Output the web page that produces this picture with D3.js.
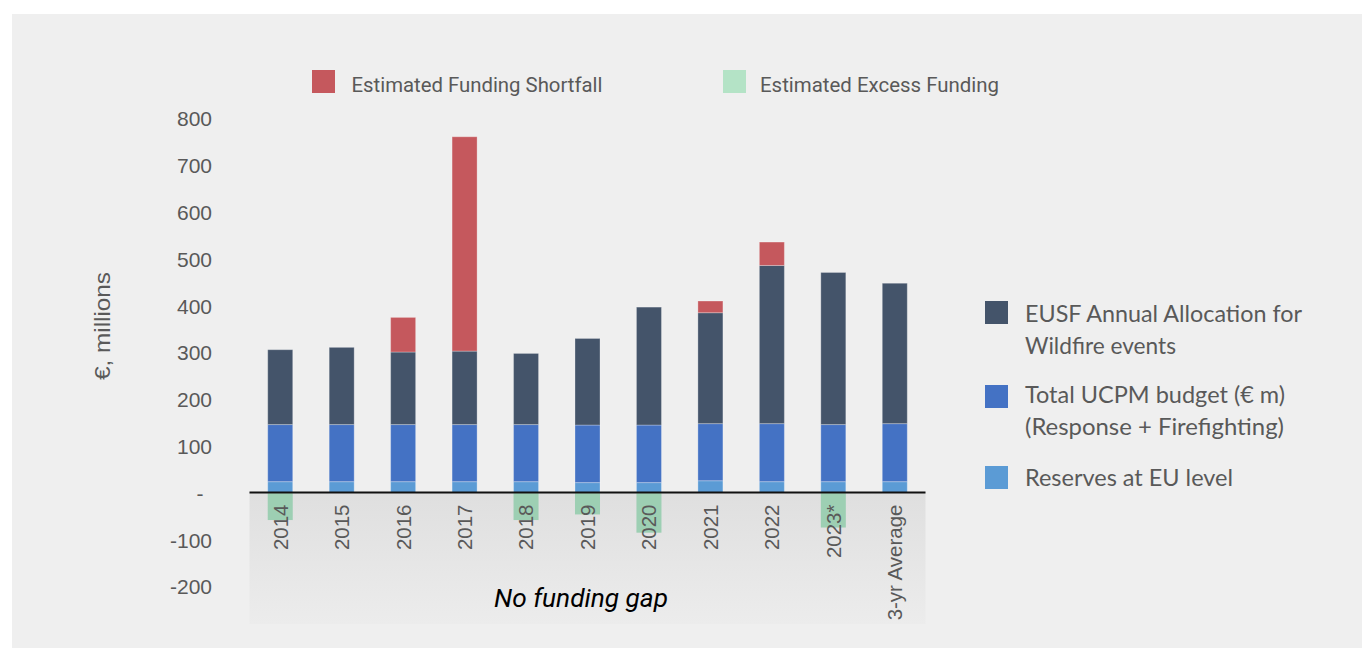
<!DOCTYPE html>
<html>
<head>
<meta charset="utf-8">
<script src="https://cdn.jsdelivr.net/npm/d3@7"></script>
<style>
  html, body { margin: 0; padding: 0; background: #ffffff; }
  svg { display: block; }
</style>
</head>
<body>
<svg id="chart" width="1362" height="652"></svg>
<script>
// Wildfire funding: stacked components per year, with shortfall on top and excess below zero (€ millions)
const categories = ["2014", "2015", "2016", "2017", "2018", "2019", "2020", "2021", "2022", "2023*", "3-yr Average"];
const reserves   = [24, 24, 24, 24, 24, 22, 22, 26, 24, 24, 24];
const ucpm       = [122, 122, 122, 122, 122, 123, 123, 122, 124, 122, 124];
const eusf       = [160, 165, 155, 157, 152, 185, 252, 237, 338, 325, 300];
const shortfall  = [0, 0, 74, 458, 0, 0, 0, 25, 50, 0, 0];
const excess     = [-58, 0, 0, 0, -58, -46, -85, 0, 0, -74, 0];
const yTicks     = [800, 700, 600, 500, 400, 300, 200, 100, 0, -100, -200];

const colors = {
  reserves: "#5b9bd5",
  ucpm: "#4472c4",
  eusf: "#44546a",
  shortfall: "#c5585d",
  excess: "#9dcfb3",
  excessKey: "#b4e3c6"
};

const svg = d3.select("#chart");
const W = 1362, H = 652;

// grey panel
svg.append("rect").attr("x", 12).attr("y", 14).attr("width", W - 12).attr("height", 634).attr("fill", "#efefef");

const x = d3.scaleBand().domain(categories).range([249.5, 925.5]).paddingInner(0.593).paddingOuter(0.2965);
const y = d3.scaleLinear().domain([-200, 800]).range([586.5, 118.5]);
const y0 = Math.round(y(0)) - 0.5;

// shaded band under the zero line
const defs = svg.append("defs");
const grad = defs.append("linearGradient").attr("id", "band").attr("x1", 0).attr("y1", 0).attr("x2", 0).attr("y2", 1);
grad.append("stop").attr("offset", "0%").attr("stop-color", "#dfdfdf");
grad.append("stop").attr("offset", "100%").attr("stop-color", "#ececec");
svg.append("rect")
  .attr("x", 249.5).attr("y", y0)
  .attr("width", 676).attr("height", 624 - y0)
  .attr("fill", "url(#band)");

// excess funding below zero
svg.append("g").selectAll("rect")
  .data(categories.map((c, i) => ({ c, v: excess[i] })).filter(d => d.v < 0))
  .join("rect")
  .attr("x", d => x(d.c))
  .attr("width", x.bandwidth())
  .attr("y", y0)
  .attr("height", d => y(d.v) - y0)
  .attr("fill", colors.excess);

// stacked bars
const rows = categories.map((c, i) => ({ c, reserves: reserves[i], ucpm: ucpm[i], eusf: eusf[i], shortfall: shortfall[i] }));
const keys = ["reserves", "ucpm", "eusf", "shortfall"];
const stack = d3.stack().keys(keys)(rows);

svg.append("g").selectAll("g")
  .data(stack)
  .join("g")
  .attr("fill", d => colors[d.key])
  .selectAll("rect")
  .data(d => d.filter(s => s[1] - s[0] > 0))
  .join("rect")
  .attr("x", d => x(d.data.c))
  .attr("width", x.bandwidth())
  .attr("y", d => y(d[1]))
  .attr("height", d => y(d[0]) - y(d[1]))
  .attr("stroke", "rgba(255,255,255,0.28)")
  .attr("stroke-width", 1);

// zero line
svg.append("line")
  .attr("x1", 249.5).attr("x2", 925.5)
  .attr("y1", y0).attr("y2", y0)
  .attr("stroke", "#111").attr("stroke-width", 2);

// y axis labels (accounting style: zero shown as a dash, plain hyphen for negatives)
const yAxis = d3.axisLeft(y).tickValues(yTicks).tickSize(0).tickPadding(0)
  .tickFormat(d => d === 0 ? "-" : String(d));
const ya = svg.append("g").attr("transform", "translate(212,0)").call(yAxis);
ya.select(".domain").remove();
ya.selectAll("text")
  .attr("font-family", "'Liberation Sans', Arial, sans-serif")
  .attr("font-size", 21)
  .attr("fill", "#595959")
  .attr("dy", "0.35em");
ya.selectAll(".tick").filter(d => d === 0).select("text")
  .attr("text-anchor", "middle").attr("x", -12);

// category labels, rotated
const xAxis = d3.axisBottom(x).tickSize(0).tickPadding(0);
const xa = svg.append("g").attr("transform", `translate(0,${y0})`).call(xAxis);
xa.select(".domain").remove();
xa.selectAll("text")
  .attr("font-family", "'Liberation Sans', Arial, sans-serif")
  .attr("font-size", 20.5)
  .attr("fill", "#595959")
  .attr("text-anchor", "end")
  .attr("transform", "rotate(-90)")
  .attr("x", -12)
  .attr("y", 0)
  .attr("dy", "0.36em");

// y axis title
svg.append("text")
  .attr("transform", "translate(110,326) rotate(-90)")
  .attr("text-anchor", "middle")
  .attr("font-family", "'Liberation Sans', Arial, sans-serif")
  .attr("font-size", 22)
  .attr("fill", "#595959")
  .attr("textLength", 108)
  .attr("lengthAdjust", "spacingAndGlyphs")
  .text("€, millions");

// band annotation
svg.append("text")
  .attr("x", 581).attr("y", 607)
  .attr("text-anchor", "middle")
  .attr("font-family", "Roboto, 'Liberation Sans', sans-serif")
  .attr("font-style", "italic")
  .attr("font-size", 25)
  .attr("fill", "#000")
  .attr("textLength", 174)
  .attr("lengthAdjust", "spacingAndGlyphs")
  .text("No funding gap");

// top legend
const topKeys = [
  { label: "Estimated Funding Shortfall", color: colors.shortfall, sx: 312, tx: 351.5, w: 251 },
  { label: "Estimated Excess Funding", color: colors.excessKey, sx: 723, tx: 760, w: 239 }
];
const tl = svg.append("g").selectAll("g").data(topKeys).join("g");
tl.append("rect").attr("x", d => d.sx).attr("y", 70).attr("width", 23).attr("height", 23).attr("fill", d => d.color);
tl.append("text")
  .attr("x", d => d.tx).attr("y", 92)
  .attr("font-family", "Roboto, 'Liberation Sans', sans-serif")
  .attr("font-size", 21)
  .attr("fill", "#595959")
  .attr("textLength", d => d.w)
  .attr("lengthAdjust", "spacingAndGlyphs")
  .text(d => d.label);

// right legend
const sideKeys = [
  { lines: ["EUSF Annual Allocation for", "Wildfire events"], widths: [277, 151], color: colors.eusf, sy: 301, by: 322 },
  { lines: ["Total UCPM budget (€ m)", "(Response + Firefighting)"], widths: [260, 259], color: colors.ucpm, sy: 385, by: 403 },
  { lines: ["Reserves at EU level"], widths: [208], color: colors.reserves, sy: 466, by: 486 }
];
const sl = svg.append("g").selectAll("g").data(sideKeys).join("g");
sl.append("rect").attr("x", 985).attr("y", d => d.sy).attr("width", 23).attr("height", 23).attr("fill", d => d.color);
sl.each(function(d) {
  const g = d3.select(this);
  d.lines.forEach((ln, i) => {
    g.append("text")
      .attr("x", 1025).attr("y", d.by + i * 32)
      .attr("font-family", "Lato, 'Open Sans', sans-serif")
      .attr("font-size", 22.5)
      .attr("fill", "#595959")
      .attr("textLength", d.widths[i])
      .attr("lengthAdjust", "spacingAndGlyphs")
      .text(ln);
  });
});
</script>
</body>
</html>
